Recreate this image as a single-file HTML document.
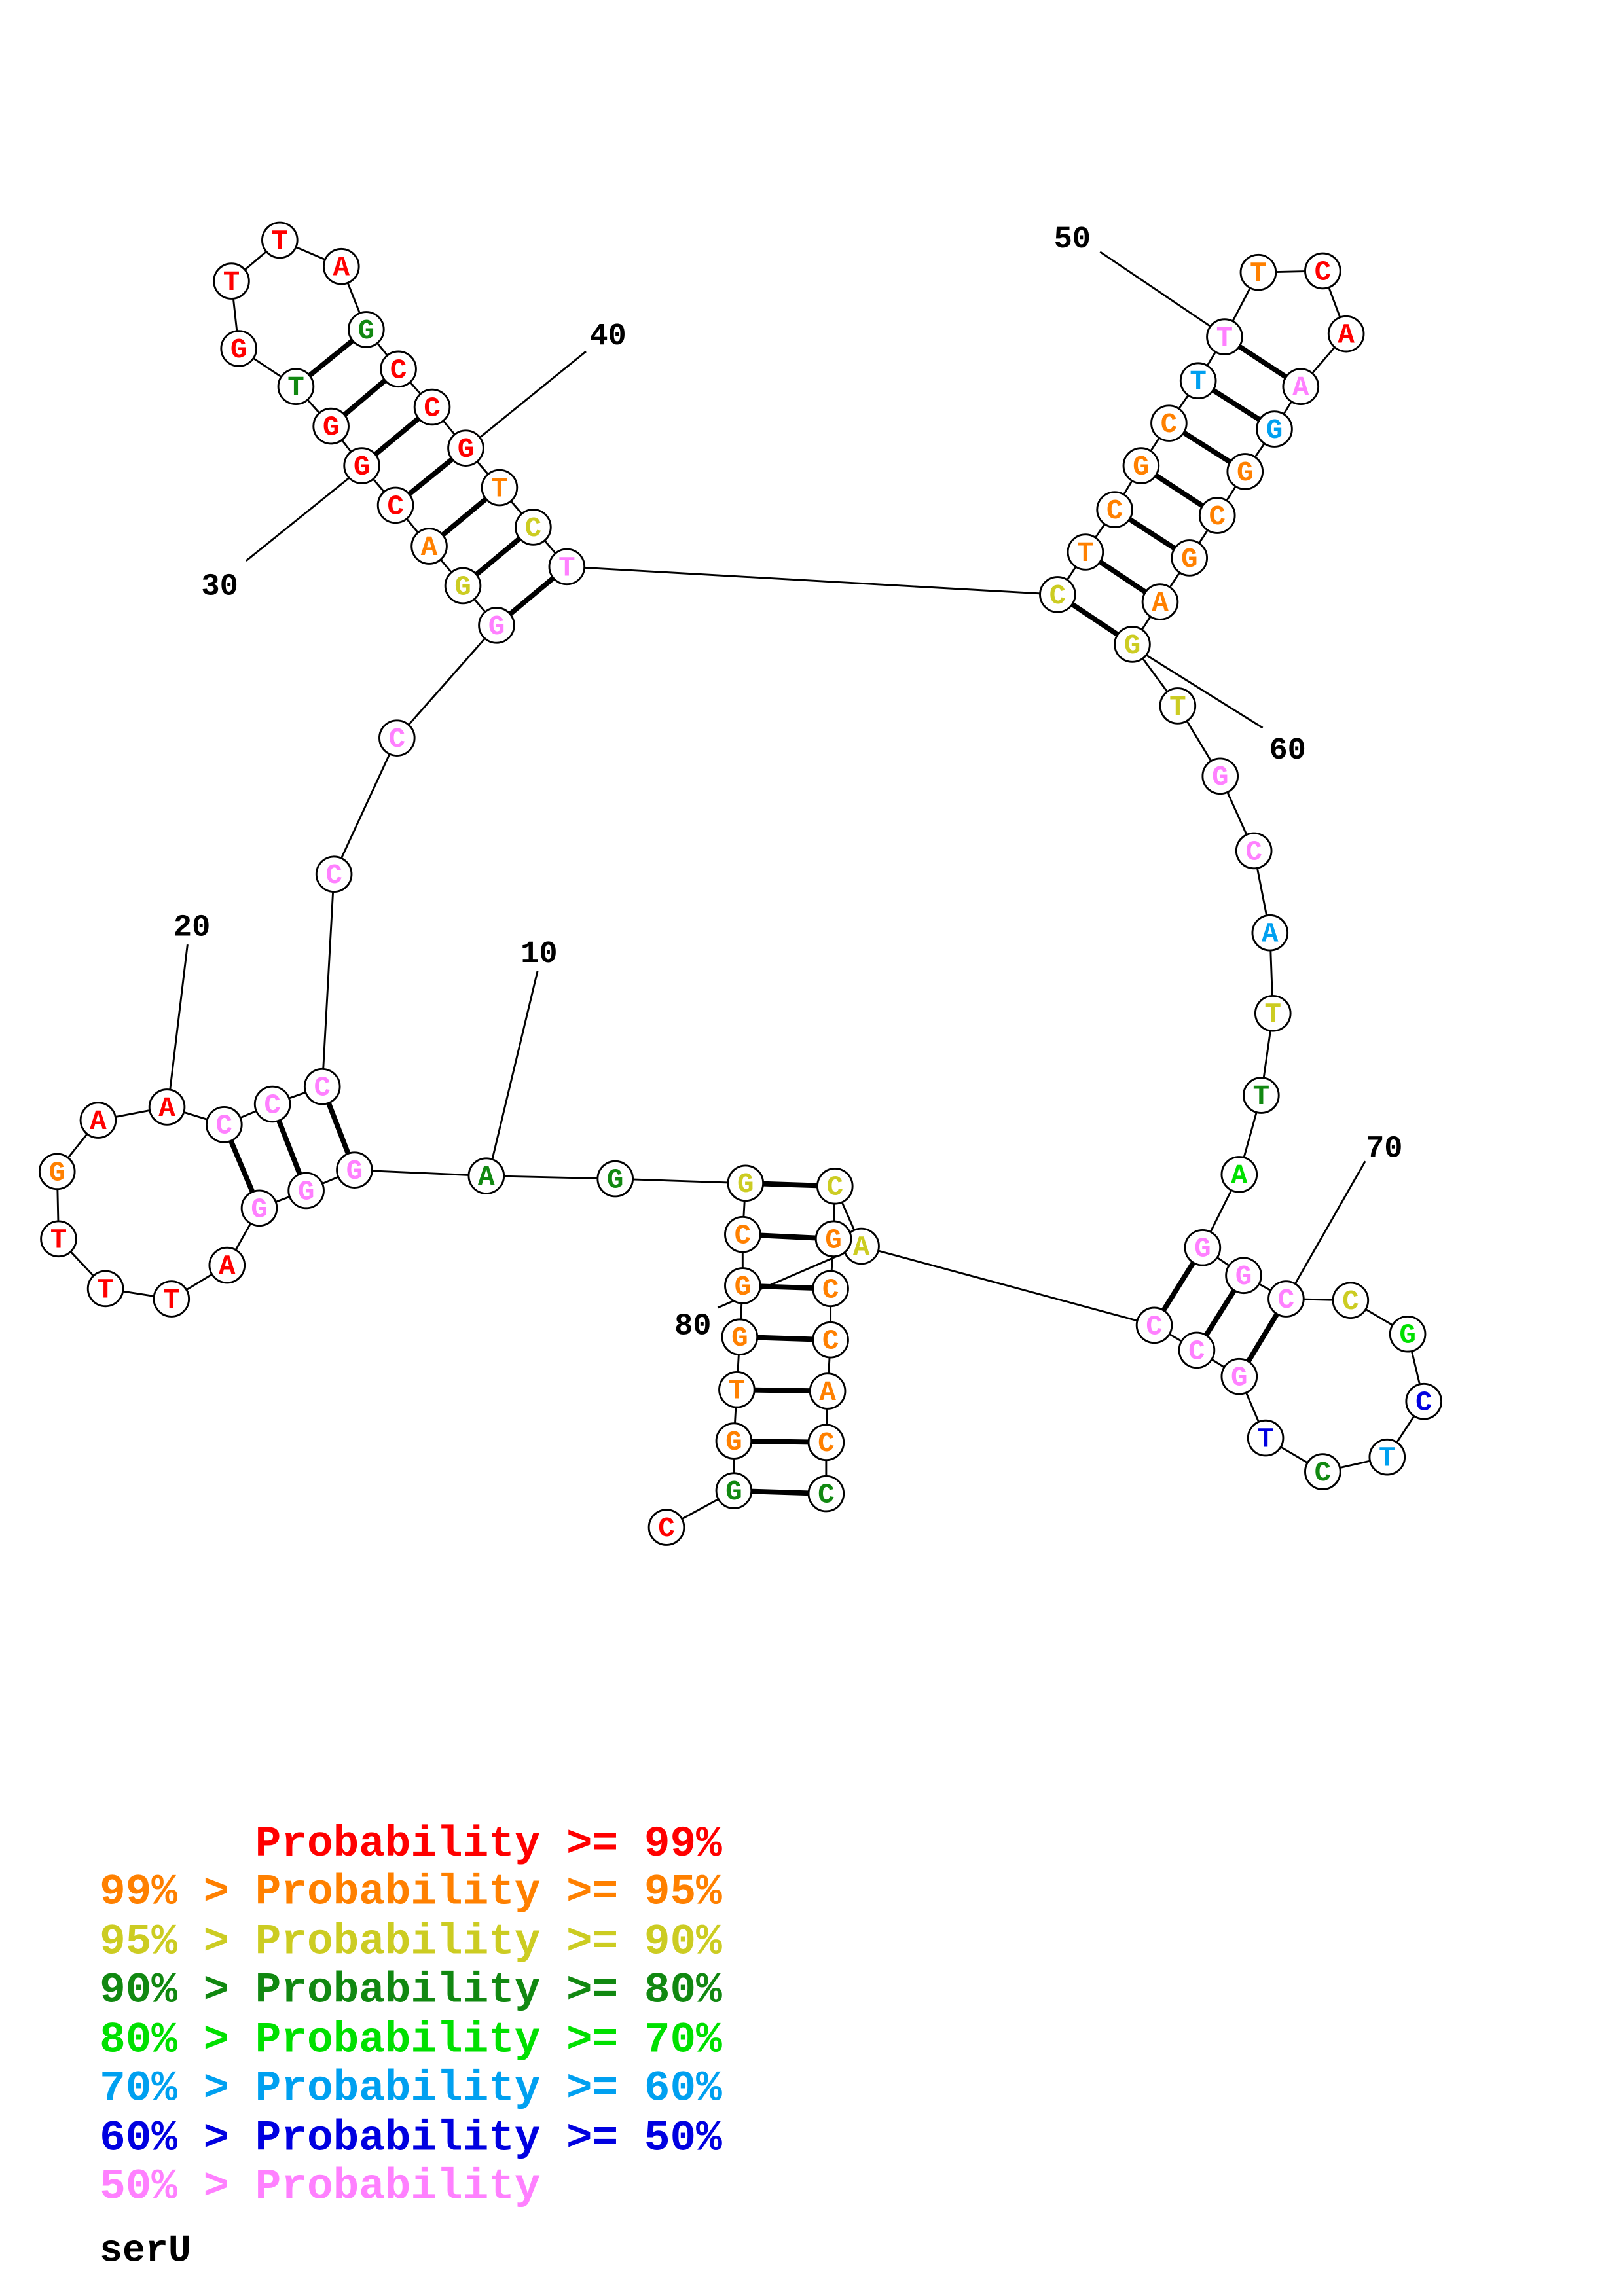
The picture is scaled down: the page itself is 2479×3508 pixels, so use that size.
<!DOCTYPE html>
<html><head><meta charset="utf-8"><style>
html,body{margin:0;padding:0;background:#fff}
svg{display:block}
text{font-family:"Liberation Mono",monospace;font-weight:bold}
.n circle{fill:#fff;stroke:#000;stroke-width:1.3}
.n text{font-size:19px;text-anchor:middle}
.R{fill:#ff0000}.O{fill:#ff8000}.Y{fill:#cccc22}.D{fill:#118811}.G{fill:#00e000}.L{fill:#00a0f0}.B{fill:#0000e0}.P{fill:#ff80ff}
.p line{stroke:#000;stroke-width:3.5}
.l line{stroke:#000;stroke-width:1.3}
.l text{font-size:21px;text-anchor:middle}
</style></head><body>
<svg width="2479" height="3508" viewBox="0 0 1108 1567.9" xmlns="http://www.w3.org/2000/svg">
<rect width="1108" height="1567.9" fill="#fff"/>
<polyline fill="none" stroke="#000" stroke-width="1.3" points="455,1043 501,1018 501,984 503,949 505,913 507,878 507,843 509,808 420,805 332,803 242,799 209,813 177,825 155,864 117,887 72,880 40,846 39,800 67,765 114,756 153,768 186,754 220,742 228,597 271,504 339,427 316,400 293,373 270,345 247,318 226,291 202,264 163,238 158,192 191,164 233,182 250,225 272,252 295,278 318,306 341,333 364,360 387,387 722,406 741,377 761,348 779,318 798,289 818,260 836,230 859,186 903,185 919,228 888,264 870,293 850,322 831,352 812,381 792,411 773,440 804,482 833,530 856,581 867,637 869,692 861,748 846,802 821,852 849,871 878,887 922,888 961,911 972,957 947,995 903,1005 864,982 846,940 817,922 788,905 588,851 570,810 569,846 567,880 567,915 565,950 564,985 564,1020"/>
<g class="p">
<line x1="242" y1="799" x2="220" y2="742"/><line x1="209" y1="813" x2="186" y2="754"/><line x1="177" y1="825" x2="153" y2="768"/>
<line x1="339" y1="427" x2="387" y2="387"/><line x1="316" y1="400" x2="364" y2="360"/><line x1="293" y1="373" x2="341" y2="333"/><line x1="270" y1="345" x2="318" y2="306"/><line x1="247" y1="318" x2="295" y2="278"/><line x1="226" y1="291" x2="272" y2="252"/><line x1="202" y1="264" x2="250" y2="225"/>
<line x1="722" y1="406" x2="773" y2="440"/><line x1="741" y1="377" x2="792" y2="411"/><line x1="761" y1="348" x2="812" y2="381"/><line x1="779" y1="318" x2="831" y2="352"/><line x1="798" y1="289" x2="850" y2="322"/><line x1="818" y1="260" x2="870" y2="293"/><line x1="836" y1="230" x2="888" y2="264"/>
<line x1="821" y1="852" x2="788" y2="905"/><line x1="849" y1="871" x2="817" y2="922"/><line x1="878" y1="887" x2="846" y2="940"/>
<line x1="570" y1="810" x2="509" y2="808"/><line x1="569" y1="846" x2="507" y2="843"/><line x1="567" y1="880" x2="507" y2="878"/><line x1="567" y1="915" x2="505" y2="913"/><line x1="565" y1="950" x2="503" y2="949"/><line x1="564" y1="985" x2="501" y2="984"/><line x1="564" y1="1020" x2="501" y2="1018"/>
</g>
<g class="l">
<line x1="367" y1="663" x2="336" y2="792"/><text x="368" y="657">10</text>
<line x1="128" y1="645" x2="116" y2="745"/><text x="131" y="639">20</text>
<line x1="168" y1="383" x2="240" y2="325"/><text x="150" y="406">30</text>
<line x1="400" y1="240" x2="326" y2="300"/><text x="415" y="235">40</text>
<line x1="751" y1="172" x2="828" y2="224"/><text x="732" y="169">50</text>
<line x1="862" y1="497" x2="782" y2="447"/><text x="879" y="518">60</text>
<line x1="932" y1="793" x2="884" y2="877"/><text x="945" y="790">70</text>
<line x1="490" y1="893" x2="571" y2="858"/><text x="473" y="911">80</text>
</g>
<g class="n">
<circle cx="455" cy="1043" r="12"/><text x="455" y="1049" class="R">C</text>
<circle cx="501" cy="1018" r="12"/><text x="501" y="1024" class="D">G</text>
<circle cx="501" cy="984" r="12"/><text x="501" y="990" class="O">G</text>
<circle cx="503" cy="949" r="12"/><text x="503" y="955" class="O">T</text>
<circle cx="505" cy="913" r="12"/><text x="505" y="919" class="O">G</text>
<circle cx="507" cy="878" r="12"/><text x="507" y="884" class="O">G</text>
<circle cx="507" cy="843" r="12"/><text x="507" y="849" class="O">C</text>
<circle cx="509" cy="808" r="12"/><text x="509" y="814" class="Y">G</text>
<circle cx="420" cy="805" r="12"/><text x="420" y="811" class="D">G</text>
<circle cx="332" cy="803" r="12"/><text x="332" y="809" class="D">A</text>
<circle cx="242" cy="799" r="12"/><text x="242" y="805" class="P">G</text>
<circle cx="209" cy="813" r="12"/><text x="209" y="819" class="P">G</text>
<circle cx="177" cy="825" r="12"/><text x="177" y="831" class="P">G</text>
<circle cx="155" cy="864" r="12"/><text x="155" y="870" class="R">A</text>
<circle cx="117" cy="887" r="12"/><text x="117" y="893" class="R">T</text>
<circle cx="72" cy="880" r="12"/><text x="72" y="886" class="R">T</text>
<circle cx="40" cy="846" r="12"/><text x="40" y="852" class="R">T</text>
<circle cx="39" cy="800" r="12"/><text x="39" y="806" class="O">G</text>
<circle cx="67" cy="765" r="12"/><text x="67" y="771" class="R">A</text>
<circle cx="114" cy="756" r="12"/><text x="114" y="762" class="R">A</text>
<circle cx="153" cy="768" r="12"/><text x="153" y="774" class="P">C</text>
<circle cx="186" cy="754" r="12"/><text x="186" y="760" class="P">C</text>
<circle cx="220" cy="742" r="12"/><text x="220" y="748" class="P">C</text>
<circle cx="228" cy="597" r="12"/><text x="228" y="603" class="P">C</text>
<circle cx="271" cy="504" r="12"/><text x="271" y="510" class="P">C</text>
<circle cx="339" cy="427" r="12"/><text x="339" y="433" class="P">G</text>
<circle cx="316" cy="400" r="12"/><text x="316" y="406" class="Y">G</text>
<circle cx="293" cy="373" r="12"/><text x="293" y="379" class="O">A</text>
<circle cx="270" cy="345" r="12"/><text x="270" y="351" class="R">C</text>
<circle cx="247" cy="318" r="12"/><text x="247" y="324" class="R">G</text>
<circle cx="226" cy="291" r="12"/><text x="226" y="297" class="R">G</text>
<circle cx="202" cy="264" r="12"/><text x="202" y="270" class="D">T</text>
<circle cx="163" cy="238" r="12"/><text x="163" y="244" class="R">G</text>
<circle cx="158" cy="192" r="12"/><text x="158" y="198" class="R">T</text>
<circle cx="191" cy="164" r="12"/><text x="191" y="170" class="R">T</text>
<circle cx="233" cy="182" r="12"/><text x="233" y="188" class="R">A</text>
<circle cx="250" cy="225" r="12"/><text x="250" y="231" class="D">G</text>
<circle cx="272" cy="252" r="12"/><text x="272" y="258" class="R">C</text>
<circle cx="295" cy="278" r="12"/><text x="295" y="284" class="R">C</text>
<circle cx="318" cy="306" r="12"/><text x="318" y="312" class="R">G</text>
<circle cx="341" cy="333" r="12"/><text x="341" y="339" class="O">T</text>
<circle cx="364" cy="360" r="12"/><text x="364" y="366" class="Y">C</text>
<circle cx="387" cy="387" r="12"/><text x="387" y="393" class="P">T</text>
<circle cx="722" cy="406" r="12"/><text x="722" y="412" class="Y">C</text>
<circle cx="741" cy="377" r="12"/><text x="741" y="383" class="O">T</text>
<circle cx="761" cy="348" r="12"/><text x="761" y="354" class="O">C</text>
<circle cx="779" cy="318" r="12"/><text x="779" y="324" class="O">G</text>
<circle cx="798" cy="289" r="12"/><text x="798" y="295" class="O">C</text>
<circle cx="818" cy="260" r="12"/><text x="818" y="266" class="L">T</text>
<circle cx="836" cy="230" r="12"/><text x="836" y="236" class="P">T</text>
<circle cx="859" cy="186" r="12"/><text x="859" y="192" class="O">T</text>
<circle cx="903" cy="185" r="12"/><text x="903" y="191" class="R">C</text>
<circle cx="919" cy="228" r="12"/><text x="919" y="234" class="R">A</text>
<circle cx="888" cy="264" r="12"/><text x="888" y="270" class="P">A</text>
<circle cx="870" cy="293" r="12"/><text x="870" y="299" class="L">G</text>
<circle cx="850" cy="322" r="12"/><text x="850" y="328" class="O">G</text>
<circle cx="831" cy="352" r="12"/><text x="831" y="358" class="O">C</text>
<circle cx="812" cy="381" r="12"/><text x="812" y="387" class="O">G</text>
<circle cx="792" cy="411" r="12"/><text x="792" y="417" class="O">A</text>
<circle cx="773" cy="440" r="12"/><text x="773" y="446" class="Y">G</text>
<circle cx="804" cy="482" r="12"/><text x="804" y="488" class="Y">T</text>
<circle cx="833" cy="530" r="12"/><text x="833" y="536" class="P">G</text>
<circle cx="856" cy="581" r="12"/><text x="856" y="587" class="P">C</text>
<circle cx="867" cy="637" r="12"/><text x="867" y="643" class="L">A</text>
<circle cx="869" cy="692" r="12"/><text x="869" y="698" class="Y">T</text>
<circle cx="861" cy="748" r="12"/><text x="861" y="754" class="D">T</text>
<circle cx="846" cy="802" r="12"/><text x="846" y="808" class="G">A</text>
<circle cx="821" cy="852" r="12"/><text x="821" y="858" class="P">G</text>
<circle cx="849" cy="871" r="12"/><text x="849" y="877" class="P">G</text>
<circle cx="878" cy="887" r="12"/><text x="878" y="893" class="P">C</text>
<circle cx="922" cy="888" r="12"/><text x="922" y="894" class="Y">C</text>
<circle cx="961" cy="911" r="12"/><text x="961" y="917" class="G">G</text>
<circle cx="972" cy="957" r="12"/><text x="972" y="963" class="B">C</text>
<circle cx="947" cy="995" r="12"/><text x="947" y="1001" class="L">T</text>
<circle cx="903" cy="1005" r="12"/><text x="903" y="1011" class="D">C</text>
<circle cx="864" cy="982" r="12"/><text x="864" y="988" class="B">T</text>
<circle cx="846" cy="940" r="12"/><text x="846" y="946" class="P">G</text>
<circle cx="817" cy="922" r="12"/><text x="817" y="928" class="P">C</text>
<circle cx="788" cy="905" r="12"/><text x="788" y="911" class="P">C</text>
<circle cx="588" cy="851" r="12"/><text x="588" y="857" class="Y">A</text>
<circle cx="570" cy="810" r="12"/><text x="570" y="816" class="Y">C</text>
<circle cx="569" cy="846" r="12"/><text x="569" y="852" class="O">G</text>
<circle cx="567" cy="880" r="12"/><text x="567" y="886" class="O">C</text>
<circle cx="567" cy="915" r="12"/><text x="567" y="921" class="O">C</text>
<circle cx="565" cy="950" r="12"/><text x="565" y="956" class="O">A</text>
<circle cx="564" cy="985" r="12"/><text x="564" y="991" class="O">C</text>
<circle cx="564" cy="1020" r="12"/><text x="564" y="1026" class="D">C</text>
</g>
<g font-size="29.5">
<text x="68" y="1267" fill="#ff0000" xml:space="preserve">      Probability &gt;= 99%</text>
<text x="68" y="1300" fill="#ff8000" xml:space="preserve">99% &gt; Probability &gt;= 95%</text>
<text x="68" y="1334" fill="#cccc22" xml:space="preserve">95% &gt; Probability &gt;= 90%</text>
<text x="68" y="1367" fill="#118811" xml:space="preserve">90% &gt; Probability &gt;= 80%</text>
<text x="68" y="1401" fill="#00e000" xml:space="preserve">80% &gt; Probability &gt;= 70%</text>
<text x="68" y="1434" fill="#00a0f0" xml:space="preserve">70% &gt; Probability &gt;= 60%</text>
<text x="68" y="1468" fill="#0000e0" xml:space="preserve">60% &gt; Probability &gt;= 50%</text>
<text x="68" y="1501" fill="#ff80ff" xml:space="preserve">50% &gt; Probability</text>
<text x="68" y="1544" fill="#000" font-size="26">serU</text>
</g>
</svg>
</body></html>
